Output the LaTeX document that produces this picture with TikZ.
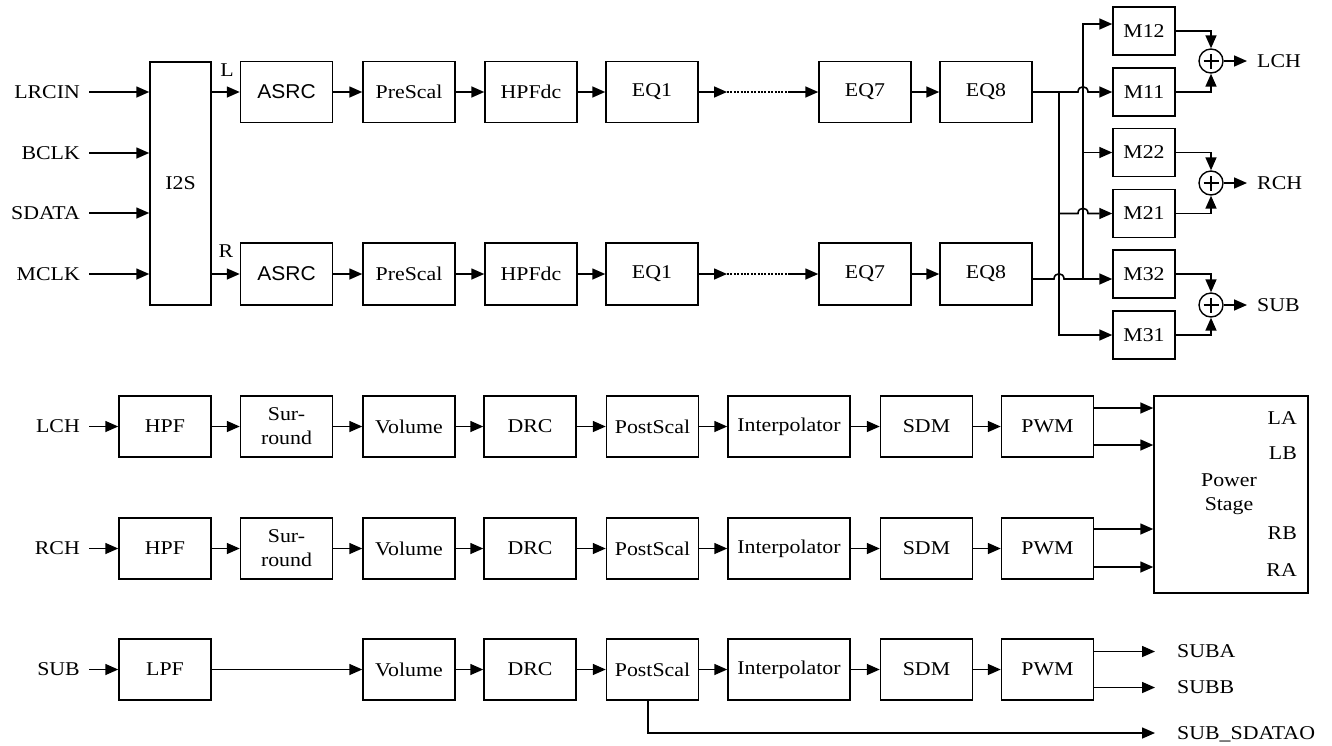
\documentclass[tikz,border=0pt]{standalone}
\usepackage{fontspec}
\setmainfont{Liberation Serif}[FakeStretch=1.12]
\newfontfamily\asrcfont{Liberation Sans}[FakeStretch=1.05]
\usetikzlibrary{arrows.meta,calc}
\begin{document}
\begin{tikzpicture}[x=1pt,y=-1pt,
 every node/.style={font=\fontsize{19.5}{24}\selectfont},
 blk/.style={draw, line width=1.5pt, minimum height=61pt, minimum width=92pt, inner sep=0pt, align=center},
 mbox/.style={draw, line width=1.5pt, minimum height=48pt, minimum width=62pt, inner sep=0pt},
 sumnode/.style={draw, circle, line width=1.4pt, minimum size=24pt, inner sep=0pt},
 arr/.style={-{Triangle[length=13pt,width=11pt]}, line width=1.6pt},
 ln/.style={line width=1.6pt},
 inlab/.style={inner sep=0pt, anchor=east, text depth=0pt},
 outlab/.style={inner sep=0pt, anchor=west, text depth=0pt},
 sansf/.style={font=\asrcfont\fontsize{20}{24}\selectfont},
]
\useasboundingbox (0,0) rectangle (1332,745);

% ---------- top section ----------
\node[blk, minimum width=61pt, minimum height=243pt] (i2s) at (180.5,183.5) {I2S};
\node[inlab] (lrcin) at (80,92) {LRCIN};
\node[inlab] (bclk) at (80,153) {BCLK};
\node[inlab] (sdata) at (80,213) {SDATA};
\node[inlab] (mclk) at (80,274) {MCLK};
\foreach \n in {lrcin,bclk,sdata,mclk}
  \draw[arr, shorten <=9pt] (\n.east) -- (\n.east -| i2s.west);

\node (Llab) at (227,70) {L};
\node (Rlab) at (226,251) {R};

\foreach \r/\y/\h in {L/92/61, R/274/62}{
  \node[blk, sansf, minimum height=\h pt] (asrc\r) at (286.5,\y) {ASRC};
  \node[blk, minimum height=\h pt] (pre\r) at (409,\y) {PreScal};
  \node[blk, minimum height=\h pt] (hpf\r) at (531,\y) {HPFdc};
  \node[blk, minimum height=\h pt] (eqa\r) at (652,\y) {EQ1};
  \node[blk, minimum height=\h pt] (eqg\r) at (865,\y) {EQ7};
  \node[blk, minimum height=\h pt] (eqh\r) at (986,\y) {EQ8};
  \draw[arr] (asrc\r.west -| i2s.east) -- (asrc\r.west);
  \draw[arr] (asrc\r.east) -- (pre\r.west);
  \draw[arr] (pre\r.east) -- (hpf\r.west);
  \draw[arr] (hpf\r.east) -- (eqa\r.west);
  \coordinate (da\r) at (727,\y);
  \coordinate (db\r) at (789,\y);
  \draw[arr] (eqa\r.east) -- (da\r);
  \draw[line width=1.3pt, dash pattern=on 2pt off 1.4pt] (da\r) -- (db\r);
  \draw[arr] (db\r) -- (eqg\r.west);
  \draw[arr] (eqg\r.east) -- (eqh\r.west);
}

% ---------- mixer ----------
\node[mbox] (m12) at (1144,31) {M12};
\node[mbox] (m11) at (1144,92) {M11};
\node[mbox] (m22) at (1144,152.5) {M22};
\node[mbox] (m21) at (1144,213.5) {M21};
\node[mbox] (m32) at (1144,274) {M32};
\node[mbox] (m31) at (1144,335) {M31};

\node[sumnode] (s1) at (1211,61) {};
\node[sumnode] (s2) at (1211,183) {};
\node[sumnode] (s3) at (1211,305) {};
\foreach \s in {s1,s2,s3}{
  \draw[line width=1.3pt] ([xshift=-7.5pt]\s.center) -- ([xshift=7.5pt]\s.center);
  \draw[line width=1.3pt] ([yshift=-7.5pt]\s.center) -- ([yshift=7.5pt]\s.center);
}
\node[outlab] (lch) at (1257,61) {LCH};
\node[outlab] (rch) at (1257,183) {RCH};
\node[outlab] (sub) at (1257,305) {SUB};
\draw[arr, shorten >=10pt] (s1.east) -- (lch.west);
\draw[arr, shorten >=10pt] (s2.east) -- (rch.west);
\draw[arr, shorten >=10pt] (s3.east) -- (sub.west);

\draw[arr] (m12.east) -| (s1.north);
\draw[arr] (m11.east) -| (s1.south);
\draw[arr] (m22.east) -| (s2.north);
\draw[arr] (m21.east) -| (s2.south);
\draw[arr] (m32.east) -| (s3.north);
\draw[arr] (m31.east) -| (s3.south);

% L bus
\coordinate (bL) at (1059,92);
\draw[arr] (eqhL.east) -- (1078,92) .. controls (1078,85) and (1088,85) .. (1088,92) -- (m11.west);
\draw[arr] (bL) |- (m31.west);
\draw[arr] (bL |- m21.west) -- (1078,213.5) .. controls (1078,206.5) and (1088,206.5) .. (1088,213.5) -- (m21.west);
% R bus
\coordinate (r0) at ([yshift=-5pt]eqhR.east);
\coordinate (bR) at (1083,279);
\coordinate (m12in) at ([yshift=7pt]m12.west);
\draw[arr] (r0) -- (1054,279) .. controls (1054,272) and (1064,272) .. (1064,279) -- (r0 -| m32.west);
\draw[arr] (bR) |- (m12in);
\draw[arr] (bR |- m22.west) -- (m22.west);

% ---------- output section ----------
\foreach \k/\y/\lab in {1/426.5/LCH, 2/548.5/RCH}{
  \node[inlab] (in\k) at (80,\y) {\lab};
  \node[blk] (hpfo\k) at (165,\y) {HPF};
  \node[blk] (sur\k) at (286.5,\y) {Sur-\\round};
  \node[blk] (vol\k) at (409,\y) {Volume};
  \node[blk] (drc\k) at (530,\y) {DRC};
  \node[blk] (post\k) at (652.5,\y) {PostScal};
  \node[blk, minimum width=122pt] (int\k) at (789,\y) {Interpolator};
  \node[blk] (sdm\k) at (926.5,\y) {SDM};
  \node[blk] (pwm\k) at (1047.5,\y) {PWM};
  \draw[arr, shorten <=9pt] (in\k.east) -- (hpfo\k.west);
  \draw[arr] (hpfo\k.east) -- (sur\k.west);
  \draw[arr] (sur\k.east) -- (vol\k.west);
  \draw[arr] (vol\k.east) -- (drc\k.west);
  \draw[arr] (drc\k.east) -- (post\k.west);
  \draw[arr] (post\k.east) -- (int\k.west);
  \draw[arr] (int\k.east) -- (sdm\k.west);
  \draw[arr] (sdm\k.east) -- (pwm\k.west);
}

\node[draw, line width=1.5pt, minimum width=154pt, minimum height=197pt, inner sep=0pt] (pst) at (1231,494.5) {};
\node[align=center, inner sep=0pt] (pstlab) at (1229,494) {Power\\Stage};
\node[inlab] (la) at (1297,418) {LA};
\node[inlab] (lb) at (1297,453) {LB};
\node[inlab] (rb) at (1297,533) {RB};
\node[inlab] (ra) at (1297,570) {RA};

\coordinate (o1) at ([yshift=18.5pt]pwm1.east);
\coordinate (o2) at ([yshift=-18.5pt]pwm1.east);
\coordinate (o3) at ([yshift=19.5pt]pwm2.east);
\coordinate (o4) at ([yshift=-18.5pt]pwm2.east);
\foreach \o in {o1,o2,o3,o4}
  \draw[arr] (\o) -- (\o -| pst.west);

% SUB row
\node[inlab] (in3) at (80,669.5) {SUB};
\node[blk] (lpf3) at (165,669.5) {LPF};
\node[blk] (vol3) at (409,669.5) {Volume};
\node[blk] (drc3) at (530,669.5) {DRC};
\node[blk] (post3) at (652.5,669.5) {PostScal};
\node[blk, minimum width=122pt] (int3) at (789,669.5) {Interpolator};
\node[blk] (sdm3) at (926.5,669.5) {SDM};
\node[blk] (pwm3) at (1047.5,669.5) {PWM};
\draw[arr, shorten <=9pt] (in3.east) -- (lpf3.west);
\draw[arr] (lpf3.east) -- (vol3.west);
\draw[arr] (vol3.east) -- (drc3.west);
\draw[arr] (drc3.east) -- (post3.west);
\draw[arr] (post3.east) -- (int3.west);
\draw[arr] (int3.east) -- (sdm3.west);
\draw[arr] (sdm3.east) -- (pwm3.west);

\node[outlab] (suba) at (1177,651.5) {SUBA};
\node[outlab] (subb) at (1177,687.5) {SUBB};
\node[outlab] (sdo) at (1177,733) {SUB\_SDATAO};
\coordinate (p1) at ([yshift=18pt]pwm3.east);
\coordinate (p2) at ([yshift=-18pt]pwm3.east);
\draw[arr] (p1) -- ([xshift=-22pt]p1 -| suba.west);
\draw[arr] (p2) -- ([xshift=-22pt]p2 -| subb.west);
\coordinate (sd) at ([xshift=-4.5pt]post3.south);
\draw[arr, shorten >=22pt] (sd) |- (sdo.west);
\end{tikzpicture}
\end{document}
